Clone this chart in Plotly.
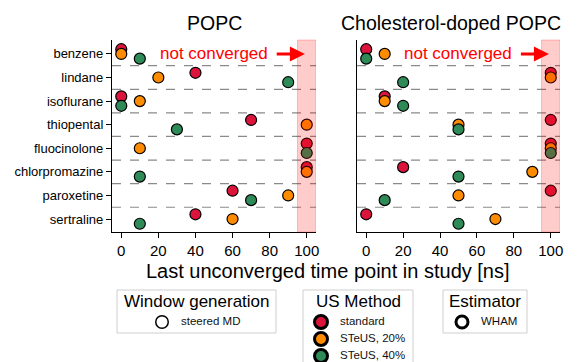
import plotly.graph_objects as go

# Permeants (rows, top to bottom)
molecules = ["benzene", "lindane", "isoflurane", "thiopental",
             "fluocinolone", "chlorpromazine", "paroxetine", "sertraline"]

# US methods and their styling
methods = ["standard", "STeUS, 20%", "STeUS, 40%"]
method_colors = ["#DC143C", "#FF8C00", "#2E8B57"]
row_offsets = [-0.2, 0.0, 0.2]

# Last unconverged time point [ns], POPC membrane
popc_standard = [0, 40, 0, 70, 100, 100, 60, 40]
popc_steus20 = [0, 20, 10, 100, 10, 100, 90, 60]
popc_steus40 = [10, 90, 0, 30, 100, 10, 70, 10]

# Last unconverged time point [ns], cholesterol-doped POPC membrane
chol_standard = [0, 100, 10, 100, 100, 20, 100, 0]
chol_steus20 = [10, 100, 10, 50, 100, 90, 50, 70]
chol_steus40 = [0, 20, 20, 50, 100, 50, 10, 50]

panel_titles = ["POPC", "Cholesterol-doped POPC"]
x_ticks = [0, 20, 40, 60, 80, 100]
not_converged_from = 95
x_range = [-5, 105]

window_labels = ["steered MD"]
estimator_labels = ["WHAM"]

FONT = "Liberation Sans, Arial, Helvetica, sans-serif"
W, H = 578, 362


def px(x):
    """Horizontal pixel -> paper fraction."""
    return x / W


def py(y):
    """Vertical pixel (from top) -> paper fraction."""
    return (H - y) / H


PLOT_TOP, PLOT_BOTTOM = 40, 232
ydom = [py(PLOT_BOTTOM), py(PLOT_TOP)]
dom1 = [px(112), px(316)]
dom2 = [px(357), px(560)]

panels = [
    ("x", "y", [popc_standard, popc_steus20, popc_steus40]),
    ("x2", "y2", [chol_standard, chol_steus20, chol_steus40]),
]

fig = go.Figure()

for xa, ya, series in panels:
    for name, color, off, vals in zip(methods, method_colors, row_offsets, series):
        fig.add_trace(go.Scatter(
            x=vals,
            y=[i + off for i in range(len(molecules))],
            mode="markers",
            marker=dict(size=11, color=color, line=dict(color="black", width=1.2)),
            xaxis=xa, yaxis=ya, showlegend=False, name=name, hoverinfo="skip",
        ))

shapes = []
annotations = []
for xa, ya, _ in panels:
    # row separators
    for i in range(len(molecules) - 1):
        shapes.append(dict(
            type="line", xref=xa, yref=ya, x0=x_range[0], x1=x_range[1],
            y0=i + 0.5, y1=i + 0.5, layer="below",
            line=dict(color="#8a8a8a", width=1.2, dash="dash"),
        ))
    # not-converged band
    shapes.append(dict(
        type="rect", xref=xa, yref=ya + " domain", x0=not_converged_from, x1=x_range[1],
        y0=0, y1=1, layer="above",
        fillcolor="rgba(255,0,0,0.2)", line=dict(color="rgba(255,0,0,0.22)", width=1),
    ))
    annotations.append(dict(
        xref=xa, yref=ya, x=80, y=0, text="not converged", showarrow=False,
        xanchor="right", yanchor="middle", font=dict(size=17, color="red", family=FONT),
    ))
    annotations.append(dict(
        xref=xa, yref=ya, x=99, y=0, ax=83, ay=0, axref=xa, ayref=ya, text="",
        showarrow=True, arrowhead=2, arrowsize=1, arrowwidth=3, arrowcolor="red",
    ))

for cx, title in zip([214, 451], panel_titles):
    annotations.append(dict(
        xref="paper", yref="paper", x=px(cx), y=py(23),
        text=title, showarrow=False, xanchor="center", yanchor="middle",
        font=dict(size=19.5, color="black", family=FONT),
    ))

annotations.append(dict(
    xref="paper", yref="paper", x=px(328), y=py(271),
    text="Last unconverged time point in study [ns]", showarrow=False,
    xanchor="center", yanchor="middle", font=dict(size=20, color="black", family=FONT),
))

# Legend boxes below the panels, each on its own hidden axis pair
LEG_TOP, LEG_TITLE_Y, LEG_FIRST_Y, LEG_STEP = 290, 301, 322, 17
legend_blocks = [
    dict(title="Window generation", labels=window_labels, fills=["white"],
         left=117, right=276, bottom=333, marker_dx=45, size=12.5, line_w=1.5),
    dict(title="US Method", labels=methods, fills=method_colors,
         left=303, right=413, bottom=372, marker_dx=18, size=13, line_w=3),
    dict(title="Estimator", labels=estimator_labels, fills=["white"],
         left=443, right=527, bottom=333, marker_dx=19, size=12, line_w=3),
]

extra_axes = {}
for k, blk in enumerate(legend_blocks):
    n = k + 3
    xa, ya = f"x{n}", f"y{n}"
    n_items = len(blk["labels"])
    idx = list(range(n_items))
    fig.add_trace(go.Scatter(
        x=[blk["marker_dx"]] * n_items, y=idx, mode="markers",
        marker=dict(size=blk["size"], color=blk["fills"],
                    line=dict(color="black", width=blk["line_w"])),
        xaxis=xa, yaxis=ya, showlegend=False, hoverinfo="skip", cliponaxis=False,
    ))
    fig.add_trace(go.Scatter(
        x=[blk["marker_dx"] + 19] * n_items, y=idx, mode="text", text=blk["labels"],
        textposition="middle right",
        textfont=dict(size=11.5, color="#111111", family=FONT),
        xaxis=xa, yaxis=ya, showlegend=False, hoverinfo="skip", cliponaxis=False,
    ))
    extra_axes[f"xaxis{n}"] = dict(
        domain=[px(blk["left"]), px(blk["right"])], range=[0, blk["right"] - blk["left"]],
        visible=False, fixedrange=True, anchor=ya,
    )
    extra_axes[f"yaxis{n}"] = dict(
        domain=[0, py(LEG_TOP)],
        range=[(H - LEG_FIRST_Y) / LEG_STEP, (LEG_TOP - LEG_FIRST_Y) / LEG_STEP],
        visible=False, fixedrange=True, anchor=xa,
    )
    shapes.append(dict(
        type="rect", xref="paper", yref="paper",
        x0=px(blk["left"]), x1=px(blk["right"]), y0=py(blk["bottom"]), y1=py(LEG_TOP),
        layer="below", fillcolor="white", line=dict(color="#cfcfcf", width=1),
    ))
    annotations.append(dict(
        xref="paper", yref="paper", x=px((blk["left"] + blk["right"]) / 2), y=py(LEG_TITLE_Y),
        text=blk["title"], showarrow=False, xanchor="center", yanchor="middle",
        font=dict(size=17, color="black", family=FONT),
    ))

common_x = dict(
    range=x_range, tickvals=x_ticks, ticks="outside", ticklen=5, tickwidth=1.2,
    tickcolor="black", showline=True, linecolor="black", linewidth=1.2,
    showgrid=False, zeroline=False, tickfont=dict(size=15, color="black", family=FONT),
)
common_y = dict(
    domain=ydom,
    range=[7.55, -0.59], tickvals=list(range(len(molecules))), ticktext=molecules,
    showline=True, linecolor="black", linewidth=1.2, showgrid=False, zeroline=False,
    tickfont=dict(size=13, color="black", family=FONT),
)

fig.update_layout(
    width=W, height=H,
    margin=dict(l=0, r=0, t=0, b=0, autoexpand=False),
    paper_bgcolor="white", plot_bgcolor="rgba(0,0,0,0)",
    font=dict(family=FONT, color="black"),
    showlegend=False,
    xaxis=dict(domain=dom1, anchor="y", **common_x),
    xaxis2=dict(domain=dom2, anchor="y2", **common_x),
    yaxis=dict(anchor="x", ticks="outside", ticklen=5, tickwidth=1.2, tickcolor="black",
               showticklabels=True, **common_y),
    yaxis2=dict(anchor="x2", ticks="", showticklabels=False, **common_y),
    shapes=shapes,
    annotations=annotations,
    **extra_axes,
)

fig.write_html("out.html")
